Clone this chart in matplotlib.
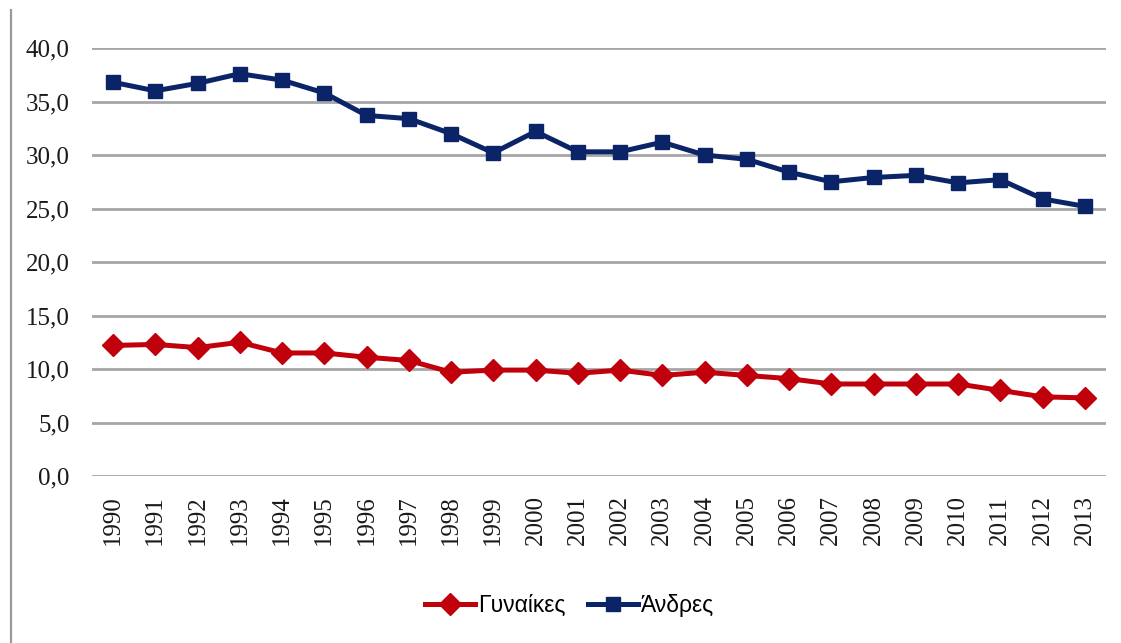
import matplotlib
matplotlib.use('Agg')
import matplotlib.pyplot as plt
from matplotlib.lines import Line2D
import numpy as np

# =============================================================================
# DATA
# =============================================================================

years = ['1990', '1991', '1992', '1993', '1994', '1995', '1996', '1997',
         '1998', '1999', '2000', '2001', '2002', '2003', '2004', '2005',
         '2006', '2007', '2008', '2009', '2010', '2011', '2012', '2013']

gynaikes = [12.2, 12.3, 12.0, 12.5, 11.5, 11.5, 11.1, 10.8,
            9.7, 9.9, 9.9, 9.6, 9.9, 9.4, 9.7, 9.4,
            9.1, 8.6, 8.6, 8.6, 8.6, 8.0, 7.4, 7.3]

andres = [36.8, 36.0, 36.7, 37.6, 37.0, 35.8, 33.7, 33.4,
          32.0, 30.2, 32.2, 30.3, 30.3, 31.2, 30.0, 29.6,
          28.4, 27.5, 27.9, 28.1, 27.4, 27.7, 25.9, 25.2]

yticks = [0, 5, 10, 15, 20, 25, 30, 35, 40]

# =============================================================================
# PLOT
# =============================================================================

red = '#C0000A'
navy = '#0B2468'
grid = '#A6A6A6'

fig = plt.figure(figsize=(11.21, 6.43), dpi=100)
ax = fig.add_axes([0.082, 0.2597, 0.9046, 0.6656])

x = np.arange(len(years))
ax.plot(x, gynaikes, color=red, lw=3.6, marker='D', ms=11,
        markeredgecolor=red, label='Γυναίκες', zorder=3)
ax.plot(x, andres, color=navy, lw=3.6, marker='s', ms=10.5,
        markeredgecolor=navy, label='Άνδρες', zorder=3)

ax.set_xlim(-0.5, len(years)-0.5)
ax.set_ylim(0, 40)
ax.set_yticks(yticks)
ax.yaxis.set_major_formatter(plt.FuncFormatter(lambda v, p: ('%.1f' % v).replace('.', ',')))
ax.set_xticks(x)
ax.set_xticklabels(years, rotation=90)

for lab in ax.get_xticklabels() + ax.get_yticklabels():
    lab.set_family('Liberation Serif')
    lab.set_fontsize(18)
    lab.set_color('#1a1a1a')

ax.tick_params(axis='x', length=0, pad=14)
ax.tick_params(axis='y', length=0, pad=16)

for s in ax.spines.values():
    s.set_visible(False)
ax.yaxis.grid(True, color=grid, lw=2)
ax.set_axisbelow(True)

# thin frame line on the left side of the figure
fig.add_artist(Line2D([0.0095, 0.0095], [0.0, 0.985], transform=fig.transFigure,
                      color='#9a9a9a', lw=1.6))

fig.legend(loc='center', bbox_to_anchor=(0.508, 0.059), ncol=2, frameon=False,
           prop={'family': 'Liberation Sans', 'size': 16.5},
           handlelength=2.2, handletextpad=0.1, columnspacing=1.0)

fig.savefig('out.png', dpi=100)
